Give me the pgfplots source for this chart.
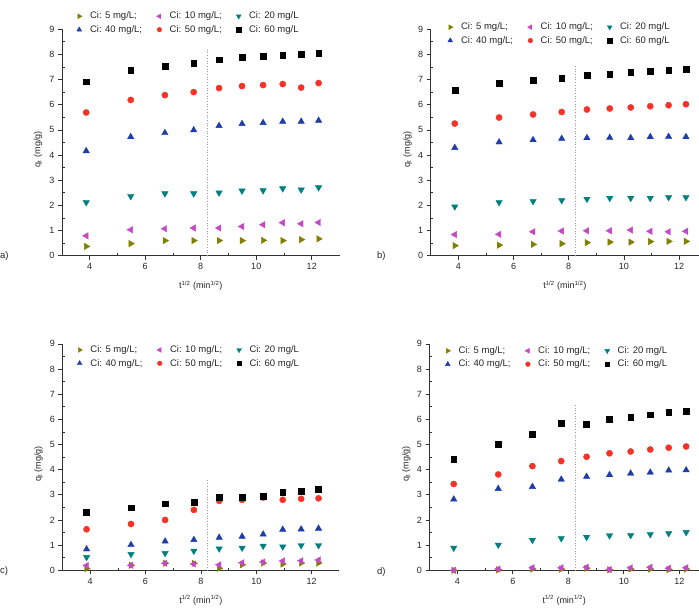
\documentclass[border=0pt]{standalone}
\usepackage{fontspec}
\setmainfont{Liberation Sans}
\usepackage{pgfplots}
\pgfplotsset{compat=1.18}
\usepackage{pgfplotstable}

% series colours
\definecolor{cfive}{RGB}{128,128,0}
\definecolor{cten}{RGB}{200,70,200}
\definecolor{ctwenty}{RGB}{0,128,128}
\definecolor{cforty}{RGB}{30,60,170}
\definecolor{cfifty}{RGB}{245,50,40}
\definecolor{csixty}{RGB}{0,0,0}

\newcommand\lblfont{\fontsize{9}{10.5}\selectfont}
\newcommand\legfont{\fontsize{9.5}{11}\selectfont}

% uptake q_t against sqrt(t); columns: initial concentration in mg/L
\pgfplotstableread{
x      c5   c10  c20  c40  c50  c60
3.873  0.37 0.79 2.12 4.16 5.69 6.91
5.477  0.48 1.03 2.36 4.72 6.19 7.36
6.708  0.60 1.07 2.47 4.88 6.38 7.54
7.746  0.60 1.10 2.47 4.99 6.50 7.66
8.660  0.60 1.10 2.50 5.16 6.66 7.79
9.487  0.60 1.16 2.58 5.24 6.74 7.90
10.247 0.61 1.23 2.59 5.28 6.78 7.94
10.954 0.60 1.31 2.67 5.33 6.82 7.97
11.619 0.64 1.27 2.62 5.33 6.68 8.02
12.247 0.67 1.32 2.71 5.37 6.86 8.04
}\dataA
\pgfplotstableread{
x      c5   c10  c20  c40  c50  c60
3.873  0.40 0.84 1.95 4.29 5.25 6.59
5.477  0.42 0.85 2.12 4.51 5.49 6.84
6.708  0.45 0.95 2.16 4.60 5.61 6.96
7.746  0.48 0.98 2.20 4.65 5.71 7.04
8.660  0.52 0.99 2.25 4.68 5.81 7.16
9.487  0.54 0.99 2.29 4.69 5.85 7.22
10.247 0.54 1.02 2.29 4.68 5.89 7.29
10.954 0.56 0.97 2.29 4.72 5.94 7.34
11.619 0.57 0.95 2.32 4.73 5.98 7.37
12.247 0.57 0.97 2.32 4.72 6.02 7.41
}\dataB
\pgfplotstableread{
x      c5   c10  c20  c40  c50  c60
3.873  0.07 0.19 0.52 0.84 1.63 2.32
5.477  0.20 0.20 0.64 1.01 1.84 2.49
6.708  0.28 0.28 0.68 1.15 2.00 2.65
7.746  0.28 0.25 0.77 1.21 2.40 2.70
8.660  0.08 0.22 0.86 1.30 2.76 2.92
9.487  0.22 0.30 0.89 1.34 2.80 2.90
10.247 0.29 0.33 0.97 1.43 2.89 2.96
10.954 0.25 0.37 0.94 1.62 2.80 3.09
11.619 0.29 0.38 0.99 1.63 2.84 3.14
12.247 0.29 0.41 0.99 1.66 2.86 3.21
}\dataC
\pgfplotstableread{
x      c5   c10  c20  c40  c50  c60
3.873  0.00 0.00 0.89 2.82 3.43 4.43
5.477  0.02 0.05 1.01 3.24 3.81 5.00
6.708  0.05 0.10 1.20 3.32 4.14 5.41
7.746  0.05 0.10 1.27 3.61 4.34 5.85
8.660  0.08 0.12 1.32 3.72 4.51 5.82
9.487  0.02 0.03 1.38 3.79 4.65 6.01
10.247 0.05 0.10 1.39 3.85 4.72 6.07
10.954 0.05 0.12 1.43 3.89 4.80 6.18
11.619 0.03 0.08 1.47 3.97 4.87 6.27
12.247 0.05 0.10 1.51 3.98 4.92 6.31
}\dataD

\pgfplotsset{
  kinetic/.style={
    scale only axis, height=226.5pt,
    xmin=3, ymin=0, ymax=9, clip=false,
    axis x line=bottom, axis y line=left,
    axis line style={-, black!80, line width=0.6pt},
    xtick={4,6,8,10,12}, ytick={0,1,...,9},
    minor x tick num=1, minor y tick num=1,
    tick align=outside,
    major tick length=4pt, minor tick length=2.5pt,
    tick style={black!80, line width=0.6pt},
    minor x tick style={yshift=2.5pt},
    minor y tick style={xshift=2.5pt},
    tick label style={font=\lblfont, text=black!85},
    /pgf/number format/assume math mode=true,
    xlabel={t\textsuperscript{1/2} (min\textsuperscript{1/2})},
    ylabel={q\textsubscript{t} (mg/g)},
    label style={font=\lblfont, text=black!85},
    xlabel style={at={(axis description cs:0.5,-0.133)}, anchor=center},
    ylabel style={at={(axis description cs:-0.086,0.47)}, anchor=center},
    legend columns=3, legend cell align=left,
    legend style={draw=none, fill=none, font=\legfont, text=black!85,
      anchor=north west, row sep=1pt,
      /tikz/every odd column/.append style={column sep=6pt},
      /tikz/every even column/.append style={column sep=12.5pt}},
    legend image post style={every mark/.append style={scale=0.75}},
  },
  s5/.style={only marks, color=cfive, mark=triangle*, mark size=3.7pt, mark options={rotate=-90}},
  s10/.style={only marks, color=cten, mark=triangle*, mark size=3.7pt, mark options={rotate=90}},
  s20/.style={only marks, color=ctwenty, mark=triangle*, mark size=3.7pt, mark options={rotate=180}},
  s40/.style={only marks, color=cforty, mark=triangle*, mark size=3.7pt},
  s50/.style={only marks, color=cfifty, mark=*, mark size=3.1pt},
  s60/.style={only marks, color=csixty, mark=square*, mark size=2.9pt},
  divider/.style={black!40, dotted, line width=0.7pt, forget plot},
}

% the six series of one panel, with their legend entries
\newcommand\series[1]{%
  \addplot[s5]  table[x=x, y=c5]  {#1}; \addlegendentry{Ci: 5 mg/L;}
  \addplot[s10] table[x=x, y=c10] {#1}; \addlegendentry{Ci: 10 mg/L;}
  \addplot[s20] table[x=x, y=c20] {#1}; \addlegendentry{Ci: 20 mg/L}
  \addplot[s40] table[x=x, y=c40] {#1}; \addlegendentry{Ci: 40 mg/L;}
  \addplot[s50] table[x=x, y=c50] {#1}; \addlegendentry{Ci: 50 mg/L;}
  \addplot[s60] table[x=x, y=c60] {#1}; \addlegendentry{Ci: 60 mg/L}
}

\begin{document}
\begin{tikzpicture}
\path[use as bounding box] (0,0) rectangle (699pt,608pt);

% a)
\begin{axis}[kinetic, at={(62pt,352.3pt)}, anchor=south west,
  width=277.5pt, xmax=13,
  legend style={at={(axis description cs:0.042,1.094)}}]
  \addplot[divider] coordinates {(8.25,0) (8.25,8.2)};
  \series{\dataA}
\end{axis}

% b)
\begin{axis}[kinetic, at={(430.7pt,352.3pt)}, anchor=south west,
  width=268.3pt, xmax=12.72,
  legend style={at={(axis description cs:0.052,1.046)}}]
  \addplot[divider] coordinates {(8.25,0) (8.25,7.6)};
  \series{\dataB}
\end{axis}

% c)
\begin{axis}[kinetic, at={(62.4pt,37.7pt)}, anchor=south west,
  width=277pt, xmax=13,
  legend style={at={(axis description cs:0.042,1.01)}}]
  \addplot[divider] coordinates {(8.25,0) (8.25,3.6)};
  \series{\dataC}
\end{axis}

% d)
\begin{axis}[kinetic, at={(429.5pt,37.7pt)}, anchor=south west,
  width=269.5pt, xmax=12.71,
  legend style={at={(axis description cs:0.047,1.006)}}]
  \addplot[divider] coordinates {(8.25,0) (8.25,6.6)};
  \series{\dataD}
\end{axis}

% panel letters
\begin{scope}[every node/.style={font=\fontsize{9.5}{11}\selectfont, text=black!85, anchor=west, inner sep=0pt}]
  \node at (0pt,352.3pt) {a)};
  \node at (377pt,352.3pt) {b)};
  \node at (0pt,37pt) {c)};
  \node at (377pt,36pt) {d)};
\end{scope}
\end{tikzpicture}
\end{document}
